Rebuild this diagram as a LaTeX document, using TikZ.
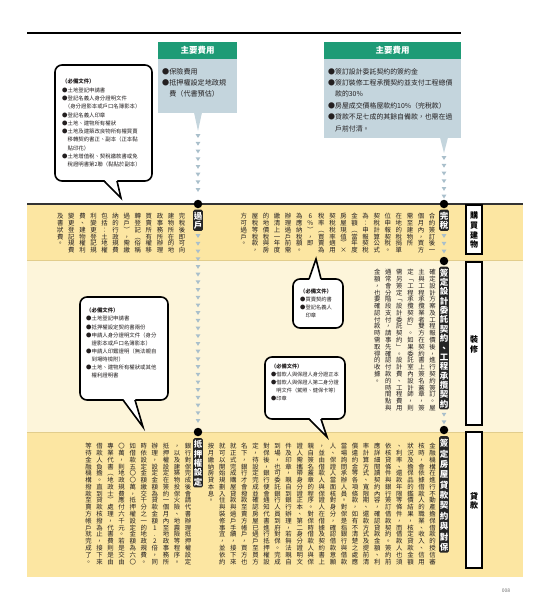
\documentclass[tikz,border=0pt]{standalone}
\usepackage{fontspec}
\setmainfont{Noto Sans CJK TC}
\newfontfamily\vfont{Noto Sans CJK TC}[RawFeature=+vert]
\usetikzlibrary{decorations.markings}

\definecolor{bandA}{HTML}{FCE6A2}
\definecolor{bandB}{HTML}{FDF5DA}
\definecolor{bandline}{HTML}{E2CD8C}
\definecolor{hdrgreen}{HTML}{1E9B76}
\definecolor{boxblue}{HTML}{C4D5DD}
\definecolor{tricol}{HTML}{A9BFCB}
\definecolor{txt}{HTML}{231F20}

\ExplSyntaxOn
\int_new:N \l__vt_n_int
\box_new:N \l__vt_all_box
\box_new:N \l__vt_col_box
\dim_new:N \l__vt_gap_dim
\dim_new:N \l__vt_pitch_dim
\cs_new_protected:Npn \__vt_char:n #1
  {
    \hbox_to_wd:nn { 1em }
      { \hss \rule [ -0.12em ] { 0pt } { \l__vt_pitch_dim } #1 \hss }
  }
\cs_new_protected:Npn \__vt_flush:
  {
    \int_compare:nNnT \l__vt_n_int > { 0 }
      {
        \box_if_empty:NTF \l__vt_all_box
          { \hbox_set:Nn \l__vt_all_box { \box_use:N \l__vt_col_box } }
          {
            \hbox_set:Nn \l__vt_all_box
              { \box_use:N \l__vt_col_box \skip_horizontal:n { \l__vt_gap_dim } \box_use:N \l__vt_all_box }
          }
        \box_clear:N \l__vt_col_box
        \int_zero:N \l__vt_n_int
      }
  }
\NewDocumentCommand \vpara { O{1.06em} O{0.73em} m m }
  {
    \group_begin:
    \dim_set:Nn \l__vt_pitch_dim { #1 }
    \dim_set:Nn \l__vt_gap_dim { #2 }
    \box_clear:N \l__vt_all_box
    \box_clear:N \l__vt_col_box
    \int_zero:N \l__vt_n_int
    \tl_map_inline:nn { #4 }
      {
        \tl_if_eq:nnTF { ##1 } { | }
          { \__vt_flush: }
          {
            \vbox_set_top:Nn \l__vt_col_box
              { \offinterlineskip \vbox_unpack:N \l__vt_col_box \__vt_char:n { ##1 } }
            \int_incr:N \l__vt_n_int
            \int_compare:nNnT \l__vt_n_int = { #3 } { \__vt_flush: }
          }
      }
    \__vt_flush:
    \box_use:N \l__vt_all_box
    \group_end:
  }
\ExplSyntaxOff

\newcommand\bubtail[6]{% ta tb basey insidey tipx tipy
  \fill[white] (#1,#4) -- (#5,#6) -- (#2,#4) -- cycle;
  \draw[black, line width=1.6pt, line join=miter] (#1,#3) -- (#5,#6) -- (#2,#3);
}

\begin{document}
\begin{tikzpicture}[x=1pt,y=-1pt,
  sidebox/.style={draw=black, line width=1.2pt, fill=white, minimum width=16pt, inner sep=0pt, font=\vfont\bfseries\fontsize{8}{8}\selectfont},
  hdr/.style={fill=hdrgreen, text=white, inner sep=0pt, minimum height=17pt, font=\bfseries\fontsize{8.5}{8.5}\selectfont},
  costtxt/.style={anchor=north west, inner sep=0pt, align=left, text=txt},
  bubble/.style={draw=black, line width=1.6pt, fill=white, rounded corners=7pt},
  bubtxt/.style={anchor=north west, inner sep=0pt, align=left, text=txt, font=\fontsize{5.3}{8}\selectfont},
  tdot/.style={circle, fill=black, inner sep=0pt, minimum size=8.5pt},
  lab/.style={fill=black!85, text=white, rounded corners=1.5pt, inner xsep=0.7pt, inner ysep=1.2pt, anchor=north, font=\vfont\bfseries\fontsize{8.5}{8.5}\selectfont},
  vtxt/.style={anchor=north east, inner sep=0pt, text=txt, font=\vfont\fontsize{6.4}{6.4}\selectfont},
  trichain/.style={decoration={markings, mark=between positions 5pt and -3pt step 7.7pt with {\fill[tricol] (-1.8pt,-2.4pt) -- (-1.8pt,2.4pt) -- (2pt,0pt) -- cycle;}}, postaction={decorate}}
]
\useasboundingbox (0,0) rectangle (534,600);

% top rule
\draw[line width=1.6pt] (27,33) -- (461,33);

% bands
\fill[bandA] (27,204) rectangle (523,260);
\fill[bandB] (27,260) rectangle (523,432);
\fill[bandA] (27,432) rectangle (523,577);
\draw[bandline, line width=0.6pt] (27,260) -- (523,260);
\draw[bandline, line width=0.6pt] (27,432) -- (523,432);
\draw[black!80, line width=1.1pt] (27,204) -- (523,204);

% side boxes
\node[sidebox, minimum height=49pt] (sBuy) at (474,229.5) {\vpara[1.2em][0pt]{9}{購買建物}};
\node[sidebox, minimum height=163pt] (sDeco) at (474,343.5) {\vpara[1.2em][0pt]{9}{裝修}};
\node[sidebox, minimum height=136pt] (sLoan) at (474,500) {\vpara[1.2em][0pt]{9}{貸款}};

% top cost boxes
\node[hdr, minimum width=79pt] (hL) at (197.5,50.5) {主要費用};
\fill[boxblue] (158,59) rectangle (237,113);
\fill[boxblue] (194,112.5) -- (202,112.5) -- (198,131) -- cycle;
\coordinate (pL) at (198,131);
\node[costtxt, font=\fontsize{7.1}{11.2}\selectfont] (cL) at (162,68) {●保險費用\\●抵押權設定地政規\\\hspace*{1em}費（代書預估）};

\node[hdr, minimum width=137pt] (hR) at (392.5,50.5) {主要費用};
\fill[boxblue] (324,59) rectangle (461,138);
\fill[boxblue] (440,137.5) -- (448,137.5) -- (444,153) -- cycle;
\coordinate (pR) at (444,153);
\node[costtxt, font=\fontsize{6.9}{11.4}\selectfont] (cR) at (328,68) {●簽訂設計委託契約的簽約金\\●簽訂裝修工程承攬契約並支付工程總價\\\hspace*{1em}款的30\%\\●房屋成交價格屋款約10\%（完稅款）\\●貸款不足七成的其餘自備款，也需在過\\\hspace*{1em}戶前付清。};

% speech bubbles
\draw[bubble] (55,65) rectangle (152,181);
\bubtail{104}{117}{181}{179.5}{121}{198}
\node[bubtxt, font=\fontsize{5.4}{8.3}\selectfont] (b1) at (62,79) {{\bfseries（必備文件）}\\●土地登記申請書\\●登記名義人身分證明文件\\\hspace*{0.5em}（身分證影本或戶口名簿影本）\\●登記名義人印章\\●土地、建物所有權狀\\●土地及建築改良物所有權買賣\\\hspace*{1em}移轉契約書正、副本（正本黏\\\hspace*{1em}貼印花）\\●土地增值稅、契稅繳款書或免\\\hspace*{1em}稅證明書第2聯（黏貼於副本）};

\draw[bubble] (80,297) rectangle (168,400);
\bubtail{123}{135}{400}{398.5}{143}{427}
\node[bubtxt, font=\fontsize{5.4}{8.1}\selectfont] (bA) at (86,308) {{\bfseries（必備文件）}\\●土地登記申請書\\●抵押權設定契約書兩份\\●申請人身分證明文件（身分\\\hspace*{1em}證影本或戶口名簿影本）\\●申請人印鑑證明（無法親自\\\hspace*{1em}到場時檢附）\\●土地、建物所有權狀或其他\\\hspace*{1em}權利證明書};

\draw[bubble] (293,279) rectangle (343,328);
\bubtail{309}{321}{279}{280.5}{316}{259}
\node[bubtxt] (bB) at (300,289) {{\bfseries（必備文件）}\\●買賣契約書\\●登記名義人\\\hspace*{1em}印章};

\draw[bubble] (265,357) rectangle (345,419);
\bubtail{309}{321}{419}{417.5}{327}{437}
\node[bubtxt, font=\fontsize{5.2}{8}\selectfont] (bC) at (271,364) {{\bfseries（必備文件）}\\●借款人與保證人身分證正本\\●借款人與保證人第二身分證\\\hspace*{1em}明文件（駕照、健保卡等）\\●印章};

% timeline dots
\node[tdot] (dG) at (198,204) {};
\node[tdot] (dW) at (444,204) {};
\node[tdot] (dS) at (444,261) {};
\node[tdot] (dL) at (444,430) {};
\node[tdot] (dD) at (198,432) {};

% step labels
\node[lab] (lG) at (198,209.5) {\vpara[1.1em][0pt]{99}{過戶}};
\node[lab] (lW) at (444,209.5) {\vpara[1.1em][0pt]{99}{完稅}};
\node[lab] (lS) at (444,266.5) {\vpara[1.1em][0pt]{99}{簽定設計委託契約、工程承攬契約}};
\node[lab] (lL) at (444,436) {\vpara[1.22em][0pt]{99}{簽定房屋貸款契約與對保}};
\node[lab] (lD) at (198,438) {\vpara[1.1em][0pt]{99}{抵押權設定}};

% dotted triangle connectors
\path[trichain] (pL) -- (dG.north);
\path[trichain] (pR) -- (dW.north);
\path[trichain] (lG.south) -- (dD.north);
\path[trichain] (lW.south) -- (dS.north);
\path[trichain] (lS.south) -- (dL.north);

% vertical paragraphs
\node[vtxt] (tG) at (185.5,212.5) {\vpara{6}{完稅後即可向建物所在的地政事務所辦理買賣所有權移轉登記（俗稱過戶），需繳納的行政規費包括：土地權利變更登記規費、建物權利變更登記規費及書狀費。}};
\node[vtxt] (tW) at (435.5,212.5) {\vpara{6}{合約簽訂後一個月內，買方需至建物所|在地的稅捐單位申報契稅。|契稅計算公式為：申報契稅金額（當年度房屋現值）×契稅稅率適用稅率（買賣為|6％），即|為應納稅額。|辦理過戶前需繳清上一年度的地價稅與房屋稅等稅款，方可過戶。}};
\node[vtxt] (tS) at (436,268.5) {\vpara{21}{確定設計方案及工程報價後，進行契約簽訂。屋主與工程承攬業者雙方在契約書上簽名蓋章，簽定「工程承攬契約」。如果委託室內設計師，則需另簽定「設計委託契約」。設計費、工程費用通常會分階段支付，請事先確認付款的時間點與金額，也要確認付款時需取得的收據。}};
\node[vtxt] (tL) at (436,442.5) {\vpara{18}{金融機構在進行不動產擔保借款的授信審核時，會依據借款人的職業、收入、信用狀況及擔保品的鑑價結果，核定貸款金額、利率、還款年限等條件，而借款人也須依核貸條件與銀行簽訂借款契約。簽約前應詳細閱讀契約內容，確認貸款金額、利率計算方式、寬限期、還款方式及提前清償違約金等各項條款，如有不清楚之處應當場詢問承辦人員。對保是指銀行與借款人、保證人當面核對身分，確認借款意願，並由借款人與保證人在借據及契約書上親自簽名蓋章的程序。對保時借款人與保證人需攜帶身分證正本、第二身分證明文件及印章，親自到銀行辦理，若無法親自到場，也可委託銀行人員到府對保。完成對保後，銀行便會通知代書進行抵押權設定，待設定完成並確認房屋已過戶至買方名下，銀行才會撥款至賣方帳戶，買方也就正式完成購屋貸款與過戶手續，接下來就可以開始規劃入住與裝修事宜，並依約按月繳納房貸本息。}};
\node[vtxt] (tD) at (191.5,442.5) {\vpara{18}{銀行對保完成後會請代書辦理抵押權設定，以及建築物投保火險、地震險等程序。抵押權設定在簽約一個月內至地政事務所辦理，設定金額為貸款金額1.2倍，同時依設定金額繳交千分之一的地政規費。如借款五〇〇萬，抵押權設定金額為六〇〇萬，則地政規費應付六千元。若是交由專業代書（地政士）處理，代書費則是由借款人負擔。直到貸款核撥為止，接下來等待金融機構撥款至賣方帳戶就完成了。}};

% page number
\node[font=\fontsize{5}{5}\selectfont, text=black!60, inner sep=0pt] (pg) at (506,591) {008};
\end{tikzpicture}
\end{document}
